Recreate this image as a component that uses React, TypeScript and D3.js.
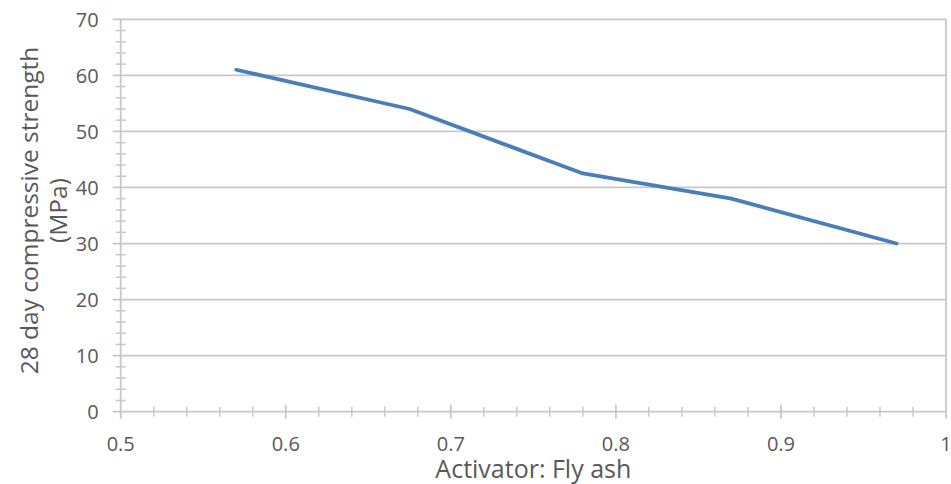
import { useEffect, useRef } from 'react';
import * as d3 from 'd3';

const ratio = [0.57, 0.675, 0.78, 0.87, 0.97];
const strength = [61, 54, 42.5, 38, 30];
const xTicks = [0.5, 0.6, 0.7, 0.8, 0.9, 1];
const yTicks = [0, 10, 20, 30, 40, 50, 60, 70];

const W = 951;
const H = 484;

export default function App() {
  const svgRef = useRef<SVGSVGElement>(null);

  useEffect(() => {
    const svg = d3.select(svgRef.current);
    svg.selectAll('*').remove();

    const left = 120.7, right = 946, top = 19.3, bottom = 411.7;
    const x = d3.scaleLinear().domain([0.5, 1]).range([left, right]);
    const y = d3.scaleLinear().domain([0, 70]).range([bottom, top]);
    const grid = '#c8c8c8';
    const font = 'Open Sans, sans-serif';

    // horizontal grid lines
    svg.append('g')
      .selectAll('line')
      .data(yTicks)
      .join('line')
      .attr('x1', left - 8)
      .attr('x2', right)
      .attr('y1', d => y(d))
      .attr('y2', d => y(d))
      .attr('stroke', grid)
      .attr('stroke-width', 1.8);

    // minor ticks
    const yMinor = d3.range(0, 70, 2).filter(d => d % 10 !== 0);
    svg.append('g')
      .selectAll('line')
      .data(yMinor)
      .join('line')
      .attr('x1', left - 5)
      .attr('x2', left + 5)
      .attr('y1', d => y(d))
      .attr('y2', d => y(d))
      .attr('stroke', grid)
      .attr('stroke-width', 1.5);

    const xMinor = d3.range(0, 25).map(i => 0.5 + i * 0.02).filter((_, i) => i % 5 !== 0);
    svg.append('g')
      .selectAll('line')
      .data(xMinor)
      .join('line')
      .attr('x1', d => x(d))
      .attr('x2', d => x(d))
      .attr('y1', bottom - 5)
      .attr('y2', bottom + 5)
      .attr('stroke', grid)
      .attr('stroke-width', 1.5);

    svg.append('g')
      .selectAll('line')
      .data(xTicks)
      .join('line')
      .attr('x1', d => x(d))
      .attr('x2', d => x(d))
      .attr('y1', d => (d === 0.5 || d === 1 ? top : bottom - 7))
      .attr('y2', bottom + 7)
      .attr('stroke', grid)
      .attr('stroke-width', 1.8);

    // tick labels
    svg.append('g')
      .selectAll('text')
      .data(yTicks)
      .join('text')
      .attr('x', left - 22)
      .attr('y', d => y(d))
      .attr('dy', '0.36em')
      .attr('text-anchor', 'end')
      .attr('font-family', font)
      .attr('font-size', 20)
      .attr('fill', '#595959')
      .text(d => d);

    svg.append('g')
      .selectAll('text')
      .data(xTicks)
      .join('text')
      .attr('x', d => x(d))
      .attr('y', bottom + 39)
      .attr('text-anchor', 'middle')
      .attr('font-family', font)
      .attr('font-size', 20)
      .attr('fill', '#595959')
      .text(d => d);

    // line
    const line = d3.line<number>()
      .x((_, i) => x(ratio[i]))
      .y(d => y(d));

    svg.append('path')
      .datum(strength)
      .attr('fill', 'none')
      .attr('stroke', '#4a7ebb')
      .attr('stroke-width', 3.8)
      .attr('stroke-linecap', 'round')
      .attr('stroke-linejoin', 'round')
      .attr('d', line);

    // axis titles
    svg.append('text')
      .attr('x', (left + right) / 2)
      .attr('y', 478)
      .attr('text-anchor', 'middle')
      .attr('font-family', font)
      .attr('font-size', 25)
      .attr('fill', '#595959')
      .text('Activator: Fly ash');

    const yTitle = svg.append('text')
      .attr('transform', `translate(38,${(top + bottom) / 2 - 5}) rotate(-90)`)
      .attr('text-anchor', 'middle')
      .attr('font-family', font)
      .attr('font-size', 24.5)
      .attr('fill', '#595959');
    yTitle.append('tspan').attr('x', 0).attr('y', 0).text('28 day compressive strength');
    yTitle.append('tspan').attr('x', 0).attr('y', 29).text('(MPa)');
  }, []);

  return (
    <svg
      ref={svgRef}
      width={W}
      height={H}
      style={{ position: 'absolute', left: 0, top: 0, background: '#fff' }}
    />
  );
}
